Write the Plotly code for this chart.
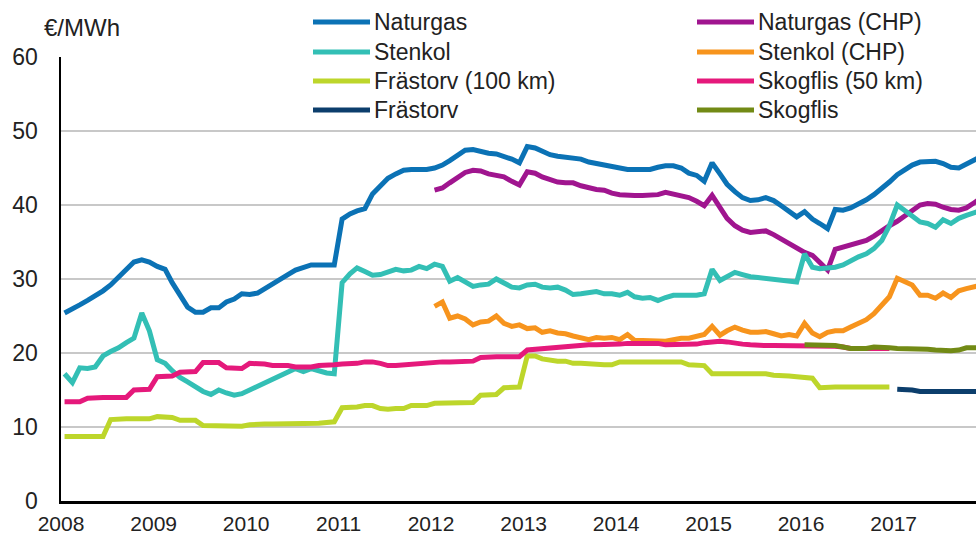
import pandas as pd
import plotly.graph_objects as go

# ---------------- data (monthly, €/MWh) ----------------
months = pd.date_range("2008-01-01", periods=120, freq="MS") + pd.Timedelta(days=14)

naturgas = [
    25.4, 25.9, 26.5, 27.1, 27.7, 28.4, 29.2, 30.2, 31.3, 32.3, 32.6, 32.3,
    31.7, 31.3, 29.5, 27.8, 26.2, 25.5, 25.5, 26.1, 26.1, 26.9, 27.3, 28.0,
    27.9, 28.1, 28.7, 29.3, 30.1, 30.6, 31.2, 31.6, 31.9, 31.9, 31.9, 31.9,
    38.1, 38.8, 39.2, 39.5, 41.5, 42.5, 43.6, 44.2, 44.7, 44.8, 44.8, 44.8,
    45.0, 45.4, 46.0, 46.8, 47.4, 47.5, 47.2, 47.0, 46.9, 46.6, 46.2, 45.7,
    47.9, 47.7, 47.2, 46.8, 46.6, 46.5, 46.4, 46.2, 45.8, 45.6, 45.5, 45.2,
    45.0, 44.8, 44.8, 44.8, 44.8, 45.1, 45.3, 45.3, 45.0, 44.3, 44.0, 43.2,
    45.7, 44.2, 42.8, 41.8, 41.0, 40.6, 40.7, 41.0, 40.6, 39.9, 39.2, 38.4,
    39.1, 38.1, 37.5, 36.8, 39.4, 39.3, 39.6, 40.1, 40.7, 41.4, 42.2, 43.1,
    44.1, 44.8, 45.4, 45.8, 45.9, 45.9, 45.6, 45.1, 45.0, 45.5, 46.1, 46.6,
]
naturgas_chp = [None] * 48 + [
    42.0, 42.3, 43.0, 43.8, 44.4, 44.7, 44.6, 44.2, 44.0, 43.8, 43.2, 42.7,
    44.5, 44.3, 43.8, 43.4, 43.1, 43.0, 43.0, 42.6, 42.3, 42.1, 42.0, 41.6,
    41.4, 41.3, 41.3, 41.3, 41.3, 41.4, 41.7, 41.5, 41.3, 41.0, 40.5, 39.9,
    41.3, 39.5, 38.2, 37.2, 36.6, 36.3, 36.4, 36.5, 36.0, 35.4, 34.7, 34.1,
    33.6, 33.2, 32.2, 31.2, 34.0, 34.3, 34.5, 34.8, 35.2, 35.8, 36.6, 37.2,
    37.8, 38.5, 39.3, 40.0, 40.2, 40.1, 39.7, 39.4, 39.3, 39.6, 40.3, 41.0,
]
stenkol = [
    17.2, 16.0, 18.0, 17.9, 18.1, 19.6, 20.2, 20.7, 21.4, 22.0, 25.4, 23.0,
    19.1, 18.6, 17.6, 16.7, 16.1, 15.4, 14.8, 14.4, 15.0, 14.6, 14.3, 14.5,
    15.0, 15.5, 16.0, 16.6, 17.0, 17.5, 17.9, 17.5, 17.9, 17.6, 17.3, 17.2,
    29.5, 30.7, 31.5, 31.0, 30.5, 30.6, 31.0, 31.3, 31.1, 31.2, 31.7, 31.4,
    32.0, 31.7, 29.7, 30.2, 29.6, 29.0, 29.2, 29.3, 30.0, 29.4, 28.9, 28.8,
    29.2, 29.3, 28.9, 28.8, 28.9, 28.5, 27.9, 28.0, 28.2, 28.3, 28.0, 28.0,
    27.8, 28.2, 27.6, 27.4, 27.5, 27.1, 27.5, 27.8, 27.8, 27.8, 27.8, 28.0,
    31.3, 29.8, 30.4, 30.9, 30.6, 30.3, 30.2, 30.1, 30.0, 29.9, 29.7, 29.6,
    33.4, 31.6, 31.4, 31.5, 31.6, 31.9, 32.5, 33.0, 33.4, 34.1, 35.2, 37.2,
    40.0, 39.3, 38.5, 37.7, 37.5, 37.0, 38.0, 37.5, 38.2, 38.6, 38.9, 39.3,
]
stenkol_chp = [None] * 48 + [
    26.3, 26.9, 24.7, 25.0, 24.6, 23.8, 24.2, 24.3, 25.0, 24.0, 23.6, 23.8,
    23.3, 23.4, 22.8, 23.0, 22.7, 22.6, 22.3, 22.0, 21.8, 22.1, 22.0, 22.1,
    21.8, 22.5, 21.7, 21.7, 21.7, 21.7, 21.6, 21.8, 22.0, 22.0, 22.2, 22.5,
    23.6, 22.4, 23.0, 23.5, 23.1, 22.8, 22.8, 22.9, 22.6, 22.3, 22.5, 22.3,
    24.0, 22.7, 22.2, 22.8, 23.0, 23.0, 23.5, 24.0, 24.5, 25.3, 26.4, 27.6,
    30.1, 29.6, 29.2, 27.8, 27.8, 27.4, 28.1, 27.5, 28.4, 28.7, 28.9, 29.2,
]
frastorv_100 = [
    8.7, 8.7, 8.7, 8.7, 8.7, 8.7, 11.0, 11.1, 11.1, 11.1, 11.1, 11.1,
    11.4, 11.4, 11.3, 10.9, 10.9, 10.9, 10.2, 10.2, 10.2, 10.1, 10.1, 10.1,
    10.3, 10.4, 10.4, 10.4, 10.4, 10.4, 10.4, 10.4, 10.4, 10.5, 10.6, 10.7,
    12.6, 12.6, 12.7, 12.9, 12.9, 12.5, 12.4, 12.5, 12.5, 12.9, 12.9, 12.9,
    13.2, 13.2, 13.2, 13.2, 13.3, 13.3, 14.3, 14.3, 14.4, 15.3, 15.4, 15.4,
    19.6, 19.6, 19.2, 19.0, 18.9, 18.9, 18.6, 18.6, 18.5, 18.4, 18.4, 18.4,
    18.8, 18.8, 18.8, 18.8, 18.8, 18.8, 18.8, 18.8, 18.8, 18.4, 18.3, 18.3,
    17.2, 17.2, 17.2, 17.2, 17.2, 17.2, 17.2, 17.2, 17.0, 17.0, 16.9, 16.8,
    16.7, 16.6, 15.3, 15.4, 15.4, 15.4, 15.4, 15.4, 15.4, 15.4, 15.4, 15.4,
] + [None] * 12
skogflis_50 = [
    13.4, 13.4, 13.4, 13.9, 14.0, 14.0, 14.0, 14.0, 14.0, 15.0, 15.1, 15.1,
    16.8, 16.9, 16.9, 17.4, 17.5, 17.5, 18.7, 18.7, 18.7, 18.0, 17.9, 17.9,
    18.6, 18.6, 18.5, 18.3, 18.3, 18.3, 18.1, 18.1, 18.1, 18.3, 18.3, 18.4,
    18.5, 18.5, 18.6, 18.8, 18.8, 18.6, 18.3, 18.3, 18.4, 18.5, 18.6, 18.7,
    18.8, 18.8, 18.8, 18.8, 18.9, 18.9, 19.4, 19.5, 19.5, 19.5, 19.5, 19.5,
    20.4, 20.5, 20.6, 20.7, 20.8, 20.8, 20.9, 21.0, 21.1, 21.1, 21.1, 21.1,
    21.2, 21.3, 21.3, 21.4, 21.4, 21.3, 21.1, 21.1, 21.1, 21.1, 21.2, 21.4,
    21.5, 21.6, 21.5, 21.3, 21.2, 21.1, 21.0, 21.0, 21.0, 21.0, 20.9, 20.9,
    20.9, 20.9, 20.9, 20.9, 20.9, 20.8, 20.6, 20.6, 20.6, 20.6, 20.6, 20.6,
] + [None] * 12
frastorv = [None] * 108 + [
    15.1, 15.1, 15.0, 14.8, 14.8, 14.8, 14.8, 14.8, 14.8, 14.8, 14.8, 14.8,
]
skogflis = [None] * 96 + [
    21.1, 21.1, 21.0, 21.0, 21.0, 20.8, 20.6, 20.6, 20.6, 20.8, 20.8, 20.7,
    20.6, 20.6, 20.6, 20.6, 20.5, 20.4, 20.3, 20.3, 20.4, 20.7, 20.7, 20.7,
]

series_names = ["Naturgas", "Naturgas (CHP)", "Stenkol", "Stenkol (CHP)",
                "Frästorv (100 km)", "Skogflis (50 km)", "Frästorv", "Skogflis"]
series_values = [naturgas, naturgas_chp, stenkol, stenkol_chp,
                 frastorv_100, skogflis_50, frastorv, skogflis]
series_colors = ["#0b72b5", "#a0158f", "#33bfb5", "#f7941d",
                 "#bdd62b", "#e5197b", "#0c3e6c", "#728a15"]

y_ticks = [0, 10, 20, 30, 40, 50, 60]
unit_label = "€/MWh"

FONT = "Liberation Sans, Arial, sans-serif"
TXT = "#222222"

# ---------------- layout geometry (pixels) ----------------
W, H = 976, 536
ML, MR, MT, MB = 61, 0, 57, 35
PW, PH = W - ML - MR, H - MT - MB


def px_x(px):
    return (px - ML) / PW


def px_y(py):
    return (H - MB - py) / PH


fig = go.Figure()
for name, vals, col in zip(series_names, series_values, series_colors):
    fig.add_trace(go.Scatter(
        x=months, y=vals, name=name, mode="lines",
        line=dict(color=col, width=5), connectgaps=False, showlegend=False,
    ))

# legend drawn as swatches + text, two columns, filled row by row
shapes = [dict(
    type="rect", xref="paper", yref="paper", x0=px_x(247), x1=1.0,
    y0=px_y(60), y1=px_y(54), fillcolor="white", line=dict(width=0),
    layer="between",
)]
annotations = [dict(
    text=unit_label, xref="paper", yref="paper", x=px_x(42), y=px_y(28),
    xanchor="left", yanchor="middle", showarrow=False,
    font=dict(size=24, color=TXT),
)]
col_x = [313, 697]
row_y = [22, 52, 81, 110]
for i, (name, col) in enumerate(zip(series_names, series_colors)):
    cx = col_x[i % 2]
    ry = row_y[i // 2]
    shapes.append(dict(
        type="line", xref="paper", yref="paper",
        x0=px_x(cx), x1=px_x(cx + 57), y0=px_y(ry), y1=px_y(ry),
        line=dict(color=col, width=5),
    ))
    annotations.append(dict(
        text=name, xref="paper", yref="paper", x=px_x(cx + 59), y=px_y(ry),
        xanchor="left", yanchor="middle", showarrow=False,
        font=dict(size=23, color=TXT),
    ))

fig.update_layout(
    width=W, height=H,
    margin=dict(l=ML, r=MR, t=MT, b=MB, autoexpand=False),
    paper_bgcolor="white", plot_bgcolor="white",
    font=dict(family=FONT, size=22, color=TXT),
    showlegend=False,
    hovermode=False,
    xaxis=dict(
        type="date", range=["2008-01-01", "2017-11-22"],
        tickformat="%Y", dtick="M12", tick0="2008-01-01",
        showgrid=False, showline=True, linecolor="black", linewidth=2.5,
        ticks="", ticklabelstandoff=2,
        minor=dict(ticks="outside", ticklen=6, tickwidth=2, tickcolor="black",
                   dtick="M12", tick0="2008-01-01", showgrid=False),
        tickfont=dict(size=21, color=TXT), zeroline=False, automargin=False,
    ),
    yaxis=dict(
        range=[0, 60], tickvals=y_ticks, showgrid=True, gridcolor="#c8c8c8",
        gridwidth=1.3, showline=True, linecolor="black", linewidth=2.5,
        ticks="", zeroline=False, ticklabelstandoff=16, automargin=False,
        tickfont=dict(size=23, color=TXT),
    ),
    annotations=annotations,
    shapes=shapes,
)

fig.write_html(
    "out.html",
    config={"displayModeBar": False, "staticPlot": True},
    post_script="document.body.style.margin='0';document.body.style.padding='0';"
                "document.body.style.overflow='hidden';",
)
